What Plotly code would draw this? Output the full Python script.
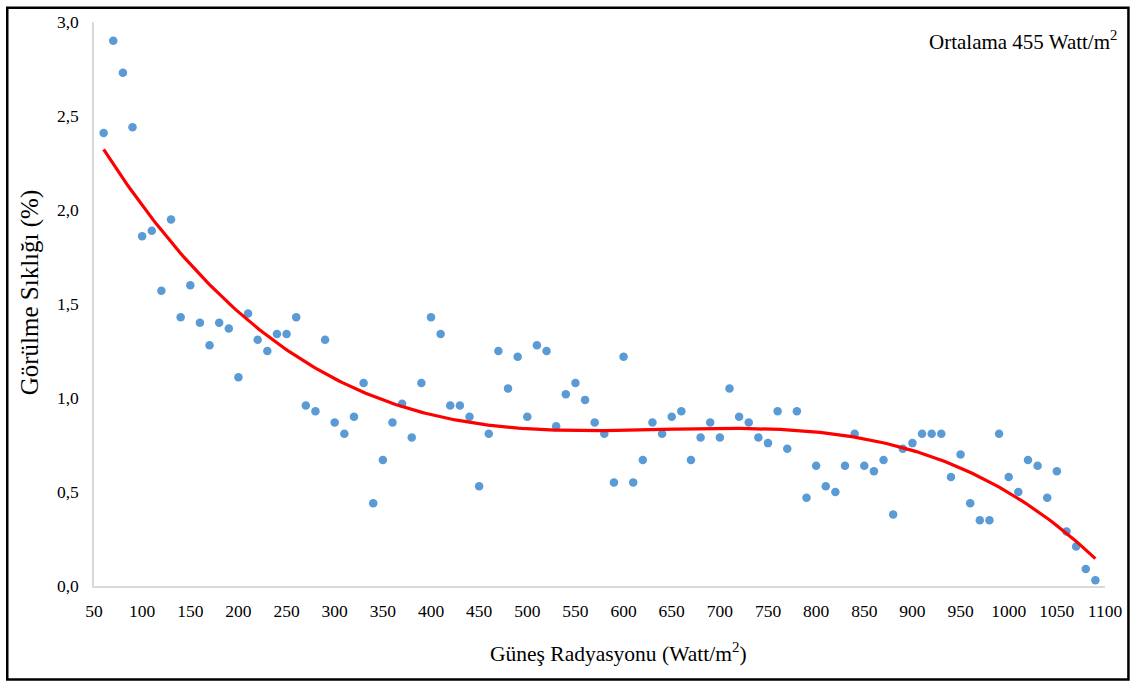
import numpy as np
import plotly.graph_objects as go

# Solar radiation bins (W/m2) and observed frequency (%)
radiation = list(range(60, 1091, 10))
frequency = [
    2.41, 2.90, 2.73, 2.44, 1.86, 1.89, 1.57, 1.95, 1.43, 1.60,   # 60-150
    1.40, 1.28, 1.40, 1.37, 1.11, 1.45, 1.31, 1.25, 1.34, 1.34,   # 160-250
    1.43, 0.96, 0.93, 1.31, 0.87, 0.81, 0.90, 1.08, 0.44, 0.67,   # 260-350
    0.87, 0.97, 0.79, 1.08, 1.43, 1.34, 0.96, 0.96, 0.90, 0.53,   # 360-450
    0.81, 1.25, 1.05, 1.22, 0.90, 1.28, 1.25, 0.85, 1.02, 1.08,   # 460-550
    0.99, 0.87, 0.81, 0.55, 1.22, 0.55, 0.67, 0.87, 0.81, 0.90,   # 560-650
    0.93, 0.67, 0.79, 0.87, 0.79, 1.05, 0.90, 0.87, 0.79, 0.76,   # 660-750
    0.93, 0.73, 0.93, 0.47, 0.64, 0.53, 0.50, 0.64, 0.81, 0.64,   # 760-850
    0.61, 0.67, 0.38, 0.73, 0.76, 0.81, 0.81, 0.81, 0.58, 0.70,   # 860-950
    0.44, 0.35, 0.35, 0.81, 0.58, 0.50, 0.67, 0.64, 0.47, 0.61,   # 960-1050
    0.29, 0.21, 0.09, 0.03,                                       # 1060-1090
]

x_ticks = list(range(50, 1101, 50))
y_ticks = [0.0, 0.5, 1.0, 1.5, 2.0, 2.5, 3.0]

# Polynomial trend line fitted to the observations
coef = np.polyfit(radiation, frequency, 3)
trend_x = np.linspace(radiation[0], radiation[-1], 300)
trend_y = np.polyval(coef, trend_x)

FONT = "Liberation Serif"

fig = go.Figure()
fig.add_trace(go.Scatter(
    x=radiation, y=frequency, mode="markers",
    marker=dict(color="#5b9bd5", size=8.5),
    showlegend=False, hoverinfo="x+y",
))
fig.add_trace(go.Scatter(
    x=trend_x, y=trend_y, mode="lines",
    line=dict(color="#ff0000", width=3.2),
    showlegend=False, hoverinfo="skip",
))

# plot area in pixels: x 94..1108, y 16..586
L, R, T, B = 94, 1108, 16, 586
W, H = R - L, B - T


def px(xp):
    return (xp - L) / W


def py(yp):
    return (B - yp) / H


fig.update_layout(
    width=1134, height=684,
    margin=dict(l=L, r=1134 - R, t=T, b=684 - B),
    paper_bgcolor="white", plot_bgcolor="white",
    separators=",.",
    font=dict(family=FONT, size=17, color="#000000"),
    xaxis=dict(
        range=[50, 1100], tickvals=x_ticks, showgrid=False, zeroline=False,
        showline=True, linecolor="#d9d9d9", linewidth=1.5, ticks="",
        tickfont=dict(family=FONT, size=17.5), ticklabelstandoff=8,
    ),
    yaxis=dict(
        range=[0, 3], tickvals=y_ticks, tickformat=".1f", showgrid=False,
        zeroline=False, showline=True, linecolor="#d9d9d9", linewidth=1.5,
        ticks="", tickfont=dict(family=FONT, size=17.5), ticklabelstandoff=10,
    ),
    annotations=[
        dict(text="Güneş Radyasyonu (Watt/m<sup>2</sup>)", xref="paper", yref="paper",
             x=px(620.5), y=py(653), showarrow=False, xanchor="center", yanchor="middle",
             font=dict(family=FONT, size=21.5)),
        dict(text="Görülme Sıklığı (%)", xref="paper", yref="paper",
             x=px(30), y=py(289), showarrow=False, xanchor="center", yanchor="middle",
             textangle=-90, font=dict(family=FONT, size=25)),
        dict(text="Ortalama 455 Watt/m<sup>2</sup>", xref="paper", yref="paper",
             x=px(1122), y=py(35), showarrow=False, xanchor="right", yanchor="middle",
             font=dict(family=FONT, size=21)),
    ],
    shapes=[
        dict(type="rect", xref="paper", yref="paper",
             x0=px(7), x1=px(1131.5), y0=py(680.5), y1=py(1.5),
             line=dict(color="#000000", width=2.5), layer="above"),
    ],
)

fig.write_html("out.html")
